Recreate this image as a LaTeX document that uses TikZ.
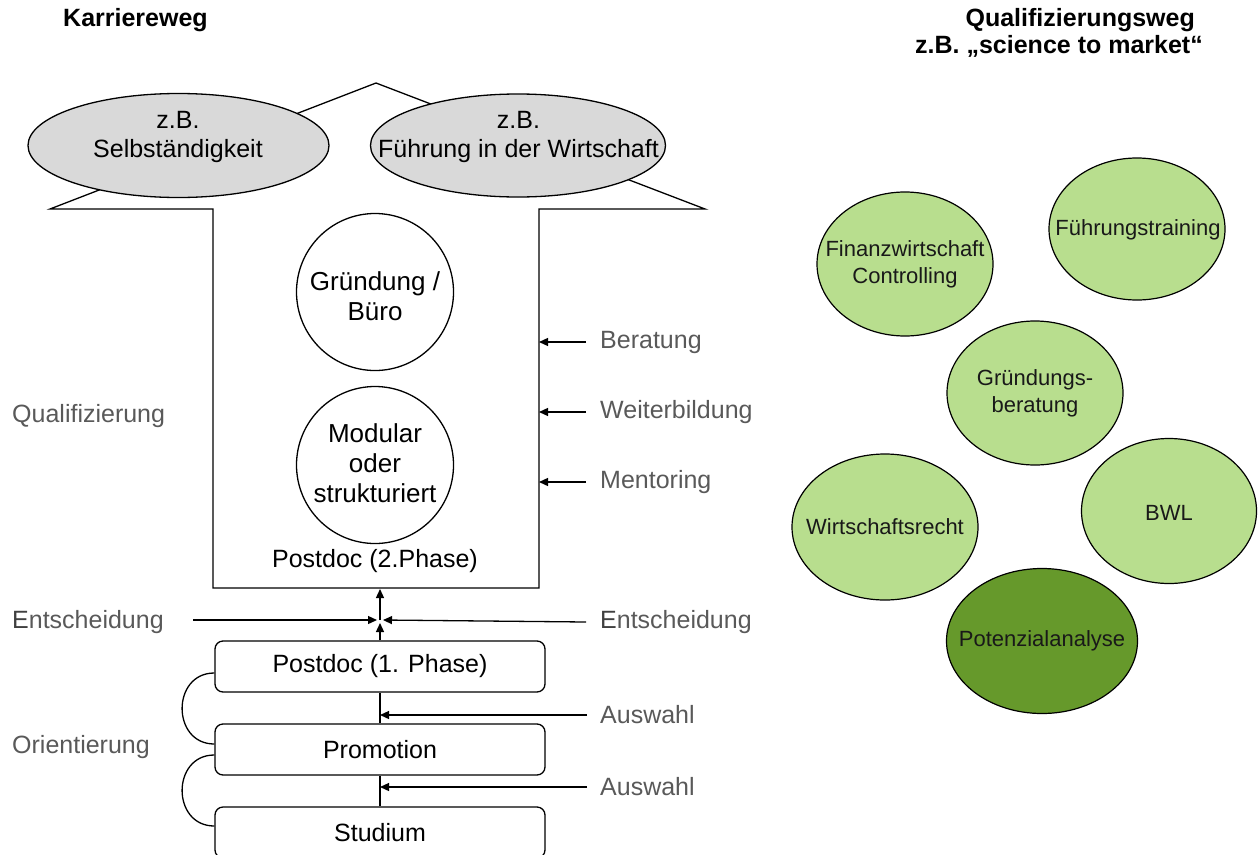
\documentclass[tikz,border=0pt]{standalone}
\usepackage{fontspec}
\setmainfont{Liberation Sans}
\usetikzlibrary{shapes.geometric,arrows.meta}
\definecolor{labelgray}{HTML}{595959}
\definecolor{ovalgray}{HTML}{D9D9D9}
\definecolor{lightgreen}{HTML}{B8DE8E}
\definecolor{darkgreen}{HTML}{66992B}
\begin{document}
\begin{tikzpicture}[x=1pt,y=-1pt,
  every node/.style={inner sep=0pt},
  outline/.style={draw=black, line width=1.3pt, line join=miter},
  goal/.style={ellipse, draw, line width=1.3pt, fill=ovalgray},
  goaltext/.style={align=center, font=\fontsize{25}{29}\selectfont},
  station/.style={circle, draw, line width=1.3pt, fill=white, minimum size=157pt},
  stationtext/.style={align=center, font=\fontsize{26}{30}\selectfont},
  phase/.style={draw, rounded corners=8pt, line width=1.3pt, fill=white,
    minimum width=330pt, minimum height=51pt, font=\fontsize{25}{30}\selectfont},
  side/.style={text=labelgray, font=\fontsize{25}{30}\selectfont, anchor=west},
  offer/.style={ellipse, draw, line width=1.2pt, fill=lightgreen,
    minimum width=176pt, minimum height=144pt},
  offertext/.style={align=center, text=black!90, font=\fontsize{22}{27}\selectfont},
  title/.style={font=\bfseries\fontsize{25}{29}\selectfont},
  arr/.style={-{Triangle[length=9pt,width=8pt]}, line width=1.3pt},
  link/.style={line width=1.3pt},
]
\useasboundingbox (0,0) rectangle (1258,854);

% titles
\node[title, anchor=west] (t1) at (63,20) {Karriereweg};
\node[title, anchor=east] (t2) at (1195,20) {Qualifizierungsweg};
\node[title, anchor=east] (t3) at (1203,46) {z.B. „science to market“};

% career arrow outline
\draw[outline, fill=white] (50,209) -- (376,83) -- (705,209) -- (539,209)
  -- (539,588) -- (213,588) -- (213,209) -- cycle;
\coordinate (wallR) at (539,400);
\coordinate (floor) at (380,589);

% goals at the arrow head
\node[goal, minimum width=301pt, minimum height=104pt] (ellL) at (178.5,145.5) {};
\node[goaltext] (ellLt) at (178,137) {z.B.\\Selbständigkeit};
\node[goal, minimum width=295pt, minimum height=103pt] (ellR) at (518,145.5) {};
\node[goaltext] (ellRt) at (518.5,137) {z.B.\\Führung in der Wirtschaft};

% stations inside the shaft
\node[station] (circA) at (375,292) {};
\node[stationtext] (circAt) at (375,296) {Gründung /\\Büro};
\node[station] (circB) at (375,465) {};
\node[stationtext] (circBt) at (375,463.5) {Modular\\oder\\strukturiert};
\node[font=\fontsize{25}{30}\selectfont] (pd2) at (375,561) {Postdoc (2.Phase)};

% support offers entering the shaft
\node[side] (ber) at (600,342) {Beratung};
\node[side] (wei) at (600,412) {Weiterbildung};
\node[side] (men) at (600,482) {Mentoring};
\foreach \n in {ber,wei,men}
  \draw[arr] ([xshift=-14pt]\n.west) -- (\n.west -| wallR);

\node[side] (qual) at (12,416) {Qualifizierung};

% phases
\node[phase] (pd1) at (380,666.5) {Postdoc (1. Phase)};
\node[phase] (promo) at (380,749.5) {Promotion};
\node[phase] (stud) at (380,832.5) {Studium};

\draw[link] (promo.north) -- (pd1.south);
\draw[link] (stud.north) -- (promo.south);

% decision point
\coordinate (cross) at (380,620);
\coordinate (entStart) at (193,620);
\node[side] (entL) at (12,622) {{\color{black!75}E}ntscheidung};
\node[side] (entR) at (600,622) {{\color{black!75}E}ntscheidung};
\draw[arr] (entStart) -- ([xshift=-3pt]cross);
\draw[arr] ([xshift=-14pt]entR.west) -- ([xshift=3pt]cross);
\draw[arr] (pd1.north) -- ([yshift=-3pt]cross);
\draw[arr] (cross) -- (floor);

% selection steps
\node[side] (aus1) at (600,715) {Auswahl};
\node[side] (aus2) at (600,787) {Auswahl};
\draw[arr] ([xshift=-13pt]aus1.west) -- (aus1.west -| pd1.north);
\draw[arr] ([xshift=-13pt]aus2.west) -- (aus2.west -| promo.north);

% orientation loops
\draw[link] ([yshift=-6.5pt]pd1.west) .. controls ([xshift=-43pt,yshift=-6.5pt]pd1.west)
  and ([xshift=-43pt,yshift=5.5pt]promo.west) .. ([yshift=5.5pt]promo.west);
\draw[link] ([yshift=-5.5pt]promo.west) .. controls ([xshift=-43pt,yshift=-5.5pt]promo.west)
  and ([xshift=-43pt,yshift=6.5pt]stud.west) .. ([yshift=6.5pt]stud.west);
\node[side] (ori) at (12,747) {Orientierung};

% qualification offers
\node[offer] (fin) at (905,264) {};
\node[offertext] (fint) at (fin) {Finanzwirtschaft\\Controlling};
\node[offer, minimum height=142pt] (fue) at (1137,229) {};
\node[offertext] (fuet) at (1138,230) {Führungstraining};
\node[offer] (gru) at (1035,393) {};
\node[offertext] (grut) at (gru) {Gründungs-\\beratung};
\node[offer, minimum width=186pt, minimum height=146pt] (wir) at (885,527) {};
\node[offertext] (wirt) at (wir) {Wirtschaftsrecht};
\node[offer, minimum width=175pt, minimum height=145pt] (bwl) at (1169,511) {};
\node[offertext] (bwlt) at (1169,513) {BWL};
\node[offer, fill=darkgreen, minimum width=191pt, minimum height=145pt] (pot) at (1042,641) {};
\node[offertext] (pott) at (pot) {Potenzialanalyse};
\end{tikzpicture}
\end{document}
